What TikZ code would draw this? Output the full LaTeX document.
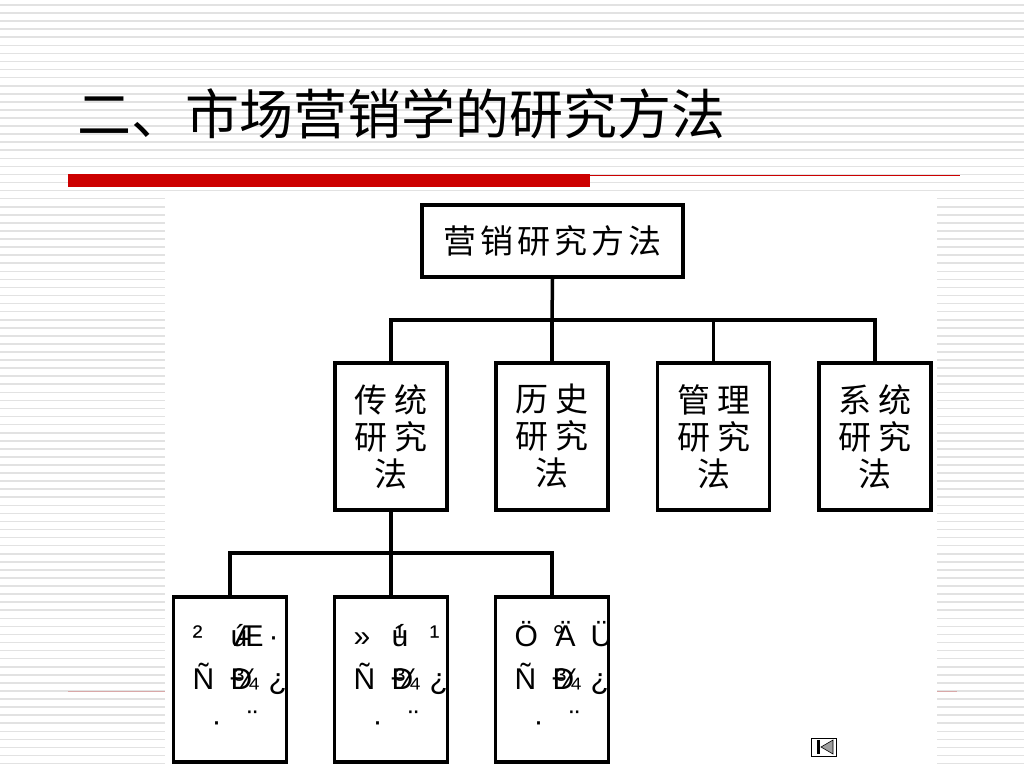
\documentclass[tikz,border=0pt]{standalone}
\usepackage{fontspec}
\setmainfont{Liberation Sans}
\newfontfamily\cjk{Noto Sans CJK SC}
\definecolor{barred}{HTML}{CC0000}
\definecolor{stripegray}{HTML}{E2E2E2}
\definecolor{faintred}{HTML}{D9A8A8}
\definecolor{navgray}{HTML}{A0A0A0}
\newcommand\cw[2]{\makebox[#1pt]{#2}}
\newcommand\gl[2]{\makebox[0pt][l]{\hspace*{#1pt}#2}}
\begin{document}
\begin{tikzpicture}[x=1pt,y=-1pt,
  box/.style={draw=black,line width=3.3pt,fill=white,inner sep=0pt},
  link/.style={line width=3.5pt},
  cn/.style={font=\cjk\fontsize{33}{37}\selectfont,align=center},
  moji/.style={font=\fontsize{30}{30}\selectfont,anchor=base west,inner sep=0pt},
  stripe/.style={draw=stripegray,line width=1.6pt},
]
\useasboundingbox (0,0) rectangle (1024,768);
\fill[white] (0,0) rectangle (1024,768);
% striped background
\foreach \i in {0,...,95} {
  \draw[stripe] (0,{5+8.07*\i}) -- (1024,{5+8.07*\i});
}
% faint lower red line
\draw[faintred,line width=1pt] (68,691) -- (957,691);
% white panel
\fill[white] (165,197) rectangle (937,768);
% title
\node[font=\cjk\fontsize{54}{54}\selectfont,anchor=base west,inner sep=0pt] (title) at (77,134) {二、市场营销学的研究方法};
% red bar and rule
\fill[barred] (68,174) rectangle (590,187);
\fill[barred] (590,174.6) rectangle (960,176.2);

% top box
\node[box,cn,minimum width=261pt,minimum height=72pt] (top) at (552.5,241)
  {\cw{37}{营}\cw{37}{销}\cw{37}{研}\cw{37}{究}\cw{37}{方}\cw{37}{法}};

% level 2 boxes
\node[box,cn,minimum width=112pt,minimum height=147pt] (b1) at (391,436.5)
  {\cw{40}{传}\cw{40}{统}\\\cw{40}{研}\cw{40}{究}\\法};
\node[box,cn,minimum width=112pt,minimum height=147pt] (b2) at (552,436.5)
  {\cw{40}{历}\cw{40}{史}\\\cw{40}{研}\cw{40}{究}\\法};
\node[box,cn,minimum width=112pt,minimum height=147pt] (b3) at (713.5,436.5)
  {\cw{40}{管}\cw{40}{理}\\\cw{40}{研}\cw{40}{究}\\法};
\node[box,cn,minimum width=112pt,minimum height=147pt] (b4) at (875,436.5)
  {\cw{40}{系}\cw{40}{统}\\\cw{40}{研}\cw{40}{究}\\法};

% level 3 boxes
\node[box,minimum width=113pt,minimum height=165pt] (c1) at (230,679.5) {};
\node[box,minimum width=113pt,minimum height=165pt] (c2) at (391,679.5) {};
\node[box,minimum width=113pt,minimum height=165pt] (c3) at (552,679.5) {};

% connectors
\coordinate (j1) at (552,320);
\coordinate (j2) at (391,553);
\draw[link] (top.south) -- (j1);
\draw[link,line join=miter] (b1.north) -- (b1.north |- j1) -- (b4.north |- j1) -- (b4.north);
\draw[link] (b2.north) -- (b2.north |- j1);
\draw[link] (b3.north) -- (b3.north |- j1);
\draw[link] (b1.south) -- (c2.north);
\draw[link,line join=miter] (c1.north) -- (c1.north |- j2) -- (c3.north |- j2) -- (c3.north);

% garbled labels
\begin{scope}
\clip (c1.north west) rectangle (c1.south east);
\node[moji] (a1) at (192,646) {\gl{0}{²}\gl{38}{ú}\gl{41}{Æ}\gl{76}{·}};
\node[moji] (a2) at (192,689) {\gl{0}{Ñ}\gl{38}{Ð}\gl{41}{¾}\gl{76}{¿}};
\node[moji] (a3) at (192,731) {\gl{19}{·}\gl{55}{¨}};
\end{scope}
\begin{scope}
\clip (c2.north west) rectangle (c2.south east);
\node[moji] (m1) at (353,646) {\gl{0}{»}\gl{38}{ú}\gl{41}{¹}\gl{76}{¹}};
\node[moji] (m2) at (353,689) {\gl{0}{Ñ}\gl{38}{Ð}\gl{41}{¾}\gl{76}{¿}};
\node[moji] (m3) at (353,731) {\gl{19}{·}\gl{55}{¨}};
\end{scope}
\begin{scope}
\clip (c3.north west) rectangle (c3.south east);
\node[moji] (z1) at (514,646) {\gl{0}{Ö}\gl{38}{°}\gl{41}{Ä}\gl{76}{Ü}};
\node[moji] (z2) at (514,689) {\gl{0}{Ñ}\gl{38}{Ð}\gl{41}{¾}\gl{76}{¿}};
\node[moji] (z3) at (514,731) {\gl{19}{·}\gl{55}{¨}};
\end{scope}

% navigation icon
\draw[line width=1pt,fill=white] (811,738) rectangle (836,756);
\fill[black] (817,740) rectangle (820,754);
\draw[fill=navgray,line width=0.6pt] (833,740) -- (833,754) -- (821,747) -- cycle;
\end{tikzpicture}
\end{document}
